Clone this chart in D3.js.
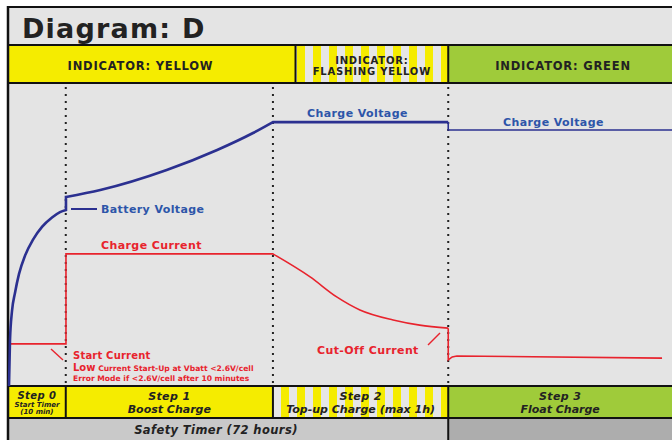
<!DOCTYPE html>
<html>
<head>
<meta charset="utf-8">
<script src="https://cdn.jsdelivr.net/npm/d3@7"></script>
<style>
  body { margin: 0; background: #fff; }
  svg { display: block; font-family: "DejaVu Sans", Verdana, sans-serif; }
</style>
</head>
<body>
<svg width="672" height="440"></svg>
<script>
// time axis in arbitrary units 0..100, level axis 0..100
var stepEdges = [0, 8.7, 39.9, 66.3, 100];
var indicatorEdges = [0, 43.3, 66.3, 100];
var indicatorLabels = [["INDICATOR: YELLOW"], ["INDICATOR:", "FLASHING YELLOW"], ["INDICATOR: GREEN"]];
var stepTitles = ["Step 0", "Step 1", "Step 2", "Step 3"];
var stepNames = [["Start Timer", "(10 min)"], ["Boost Charge"], ["Top-up Charge (max 1h)"], ["Float Charge"]];
var timerLabel = "Safety Timer (72 hours)";

var voltage = [
    [[0.15, 0], [0.3, 15], [0.6, 24.7], [1.05, 30.7], [1.66, 37.0], [2.56, 43.0], [3.77, 48.3],
     [5.12, 52.5], [6.63, 55.6], [7.83, 57.4], [8.73, 58.1]],
    [[8.73, 62.4], [13.9, 64.7], [23.9, 71.3], [31.5, 77.9], [36.9, 83.5], [39.9, 87.1]],
    [[39.9, 87.1], [66.3, 87.1]]
];
var floatVoltage = [[66.3, 87.1], [66.3, 84.5], [100, 84.5]];

var current = [
    [[0.3, 13.9], [8.73, 13.9]],
    [[8.73, 43.6], [39.9, 43.6]],
    [[39.9, 43.6], [45.5, 36.0], [49.5, 29.4], [53.0, 25.1], [58.0, 21.8], [62.0, 20.1], [66.3, 19.1]]
];
var floatCurrent = [[66.3, 19.1], [66.3, 8.6], [66.9, 9.6], [67.6, 9.9], [98.5, 9.2]];

var svg = d3.select("svg");
var left = 8, right = 672, frameTop = 7;
var titleBottom = 45, indBottom = 83, plotBottom = 386, stepBottom = 418, H = 440;

var x = d3.scaleLinear().domain([0, 100]).range([left, right]);
var y = d3.scaleLinear().domain([0, 100]).range([plotBottom, indBottom]);

var yellow = "#f5ec00", green = "#9fcb3a", grey = "#e4e4e4";
var blue = "#2b3090", blueText = "#2d55a9", red = "#e8232d";

// stripes
var defs = svg.append("defs");
var pat = defs.append("pattern").attr("id", "stripes")
    .attr("patternUnits", "userSpaceOnUse").attr("width", 16).attr("height", 10)
    .attr("x", 297);
pat.append("rect").attr("width", 16).attr("height", 10).attr("fill", "#e6e6e6");
pat.append("rect").attr("width", 8).attr("height", 10).attr("fill", yellow);

// title band
svg.append("rect").attr("x", left).attr("y", frameTop).attr("width", right - left)
    .attr("height", H - frameTop).attr("fill", grey);
svg.append("text").attr("x", 22).attr("y", 38).text("Diagram: D")
    .attr("font-size", 27).attr("letter-spacing", 1.2).attr("font-weight", "bold").attr("fill", "#222");

// indicator band
var indFills = [yellow, "url(#stripes)", green];
indicatorEdges.slice(0, -1).forEach(function (e, i) {
    svg.append("rect").attr("x", x(e)).attr("y", titleBottom)
        .attr("width", x(indicatorEdges[i + 1]) - x(e)).attr("height", indBottom - titleBottom)
        .attr("fill", indFills[i]);
});
var indCenters = [(x(0) + x(stepEdges[2])) / 2, (x(indicatorEdges[1]) + x(indicatorEdges[2])) / 2, 563];
indicatorLabels.forEach(function (lines, i) {
    var two = lines.length > 1;
    var t = svg.append("text").attr("text-anchor", "middle").attr("font-size", two ? 10 : 11.5)
        .attr("letter-spacing", 0.8).attr("font-weight", "bold").attr("fill", "#222");
    lines.forEach(function (l, j) {
        t.append("tspan").attr("x", indCenters[i])
            .attr("y", two ? 64 + j * 11 : 70).text(l);
    });
});

// step band
var stepFills = [yellow, yellow, "url(#stripes)", green];
stepEdges.slice(0, -1).forEach(function (e, i) {
    var x0 = x(e), x1 = x(stepEdges[i + 1]);
    svg.append("rect").attr("x", x0).attr("y", plotBottom).attr("width", x1 - x0)
        .attr("height", stepBottom - plotBottom).attr("fill", stepFills[i]);
    var cx = (x0 + x1) / 2;
    var small = stepNames[i].length > 1;
    svg.append("text").attr("x", cx).attr("y", small ? 399 : 400).attr("text-anchor", "middle")
        .attr("font-size", small ? 10 : 11).attr("font-weight", "bold").attr("font-style", "italic")
        .attr("letter-spacing", 0.4).attr("fill", "#222").text(stepTitles[i]);
    stepNames[i].forEach(function (n, j) {
        svg.append("text").attr("x", cx).attr("y", small ? 406.5 + j * 7 : 412.5)
            .attr("text-anchor", "middle").attr("font-size", small ? 7 : 11)
            .attr("font-weight", "bold").attr("font-style", "italic").attr("fill", "#222").text(n);
    });
});

// safety timer band
svg.append("rect").attr("x", left).attr("y", stepBottom).attr("width", x(stepEdges[3]) - left)
    .attr("height", H - stepBottom).attr("fill", "#c9c9c9");
svg.append("rect").attr("x", x(stepEdges[3])).attr("y", stepBottom).attr("width", right - x(stepEdges[3]))
    .attr("height", H - stepBottom).attr("fill", "#adadad");
svg.append("text").attr("x", 216).attr("y", 434).attr("text-anchor", "middle")
    .attr("font-size", 11.5).attr("letter-spacing", 0.4).attr("font-weight", "bold").attr("font-style", "italic")
    .attr("fill", "#222").text(timerLabel);

// dotted phase lines
stepEdges.slice(1, -1).forEach(function (e) {
    svg.append("line").attr("x1", x(e)).attr("x2", x(e)).attr("y1", indBottom + 4).attr("y2", plotBottom)
        .attr("stroke", "#222").attr("stroke-width", 2).attr("stroke-dasharray", "2,5");
});

// borders
var border = svg.append("g").attr("stroke", "#111").attr("stroke-width", 2);
[frameTop, titleBottom, indBottom, plotBottom, stepBottom].forEach(function (yy) {
    border.append("line").attr("x1", left).attr("x2", right).attr("y1", yy).attr("y2", yy);
});
border.append("line").attr("x1", left).attr("x2", left).attr("y1", frameTop - 1).attr("y2", H).attr("stroke-width", 2.5);
[indicatorEdges[1], indicatorEdges[2]].forEach(function (e) {
    border.append("line").attr("x1", x(e)).attr("x2", x(e)).attr("y1", titleBottom).attr("y2", indBottom);
});
stepEdges.slice(1, -1).forEach(function (e) {
    border.append("line").attr("x1", x(e)).attr("x2", x(e)).attr("y1", plotBottom).attr("y2", stepBottom);
});
border.append("line").attr("x1", x(stepEdges[3])).attr("x2", x(stepEdges[3])).attr("y1", stepBottom).attr("y2", H);

// curves
var smooth = d3.line().x(function (d) { return x(d[0]); }).y(function (d) { return y(d[1]); })
    .curve(d3.curveMonotoneX);
var straight = d3.line().x(function (d) { return x(d[0]); }).y(function (d) { return y(d[1]); });
function joined(segs) {
    return segs.map(function (s, i) {
        var p = smooth(s);
        return i == 0 ? p : "L" + p.slice(1);
    }).join("");
}
svg.append("path").attr("d", joined(current)).attr("fill", "none")
    .attr("stroke", red).attr("stroke-width", 1.6);
svg.append("path").attr("d", straight(floatCurrent)).attr("fill", "none")
    .attr("stroke", red).attr("stroke-width", 1.6);
svg.append("path").attr("d", joined(voltage)).attr("fill", "none")
    .attr("stroke", blue).attr("stroke-width", 2.6);
svg.append("path").attr("d", straight(floatVoltage)).attr("fill", "none")
    .attr("stroke", blue).attr("stroke-width", 1.6);

// annotations
function label(txt, px, py, col, size) {
    return svg.append("text").attr("x", px).attr("y", py).attr("font-size", size || 11)
        .attr("font-weight", "bold").attr("letter-spacing", 0.4).attr("fill", col).text(txt);
}
svg.append("line").attr("x1", 71).attr("x2", 97).attr("y1", 209).attr("y2", 209)
    .attr("stroke", blue).attr("stroke-width", 2);
label("Battery Voltage", 101, 213, blueText);
label("Charge Voltage", 307, 117, blueText);
label("Charge Voltage", 503, 126, blueText);
label("Charge Current", 101, 249, red);
label("Start Current", 73, 359, red, 10).attr("letter-spacing", 0.2);
var low = svg.append("text").attr("x", 73).attr("y", 370.5).attr("font-weight", "bold").attr("fill", red);
low.append("tspan").attr("font-size", 10).text("Low");
low.append("tspan").attr("font-size", 7.6).text(" Current Start-Up at Vbatt <2.6V/cell");
label("Error Mode if <2.6V/cell after 10 minutes", 73, 380.5, red, 7.6).attr("letter-spacing", 0);
label("Cut-Off Current", 317, 354, red);
svg.append("line").attr("x1", 51).attr("y1", 349).attr("x2", 63).attr("y2", 360)
    .attr("stroke", red).attr("stroke-width", 1.4);
svg.append("line").attr("x1", 428).attr("y1", 345).attr("x2", 440).attr("y2", 333)
    .attr("stroke", red).attr("stroke-width", 1.4);
</script>
</body>
</html>
